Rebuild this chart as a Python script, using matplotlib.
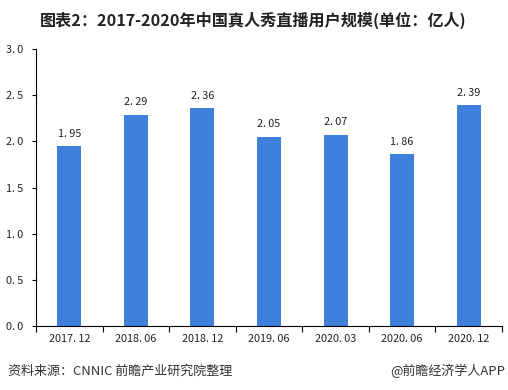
import matplotlib
matplotlib.use("Agg")
import matplotlib.pyplot as plt
import numpy as np

plt.rcParams['font.family'] = ['Noto Sans CJK SC', 'DejaVu Sans']

categories = ["2017. 12", "2018. 06", "2018. 12", "2019. 06", "2020. 03", "2020. 06", "2020. 12"]
values = [1.95, 2.29, 2.36, 2.05, 2.07, 1.86, 2.39]
yticks = [0.0, 0.5, 1.0, 1.5, 2.0, 2.5, 3.0]

fig = plt.figure(figsize=(5.08, 3.90), dpi=100)
ax = fig.add_axes([36/508, 1-326/390, (502-36)/508, (326-49)/390])

x = np.arange(len(categories))
ax.bar(x, values, width=0.36, color="#3F80DC", zorder=2)
for xi, v in zip(x, values):
    ax.text(xi, v + 0.08, f"{v:.2f}".replace(".", ". "), ha="center", va="bottom",
            fontsize=7.8, color="#222222")

ax.set_xlim(-0.5, len(categories) - 0.5)
ax.set_ylim(0, 3.0)
ax.set_yticks(yticks)
ax.set_yticklabels([f"{t:.1f}".replace(".", ". ") for t in yticks], fontsize=7.8, color="#222222")
ax.set_xticks(x)
ax.set_xticklabels(categories, fontsize=7.8, color="#222222")
ax.tick_params(axis="x", length=0, pad=6)
ax.set_xticks(np.arange(-0.5, len(categories)), minor=True)
ax.tick_params(axis="x", which="minor", length=4, width=0.8, direction="out")
ax.tick_params(axis="y", length=3, width=0.8, direction="out", pad=6)
for s in ["top", "right"]:
    ax.spines[s].set_visible(False)
for s in ["left", "bottom"]:
    ax.spines[s].set_linewidth(0.8)
    ax.spines[s].set_color("#000000")

fig.text(253/508, 1-20/390, "图表2：2017-2020年中国真人秀直播用户规模(单位：亿人)",
         ha="center", va="center", fontsize=11.6, fontweight="bold", color="#222222")
fig.text(8/508, 1-371/390, "资料来源：CNNIC 前瞻产业研究院整理", ha="left", va="center",
         fontsize=9.4, color="#333333")
fig.text(505/508, 1-371/390, "@前瞻经济学人APP", ha="right", va="center",
         fontsize=9.4, color="#333333")

fig.savefig("out.png", dpi=100)
